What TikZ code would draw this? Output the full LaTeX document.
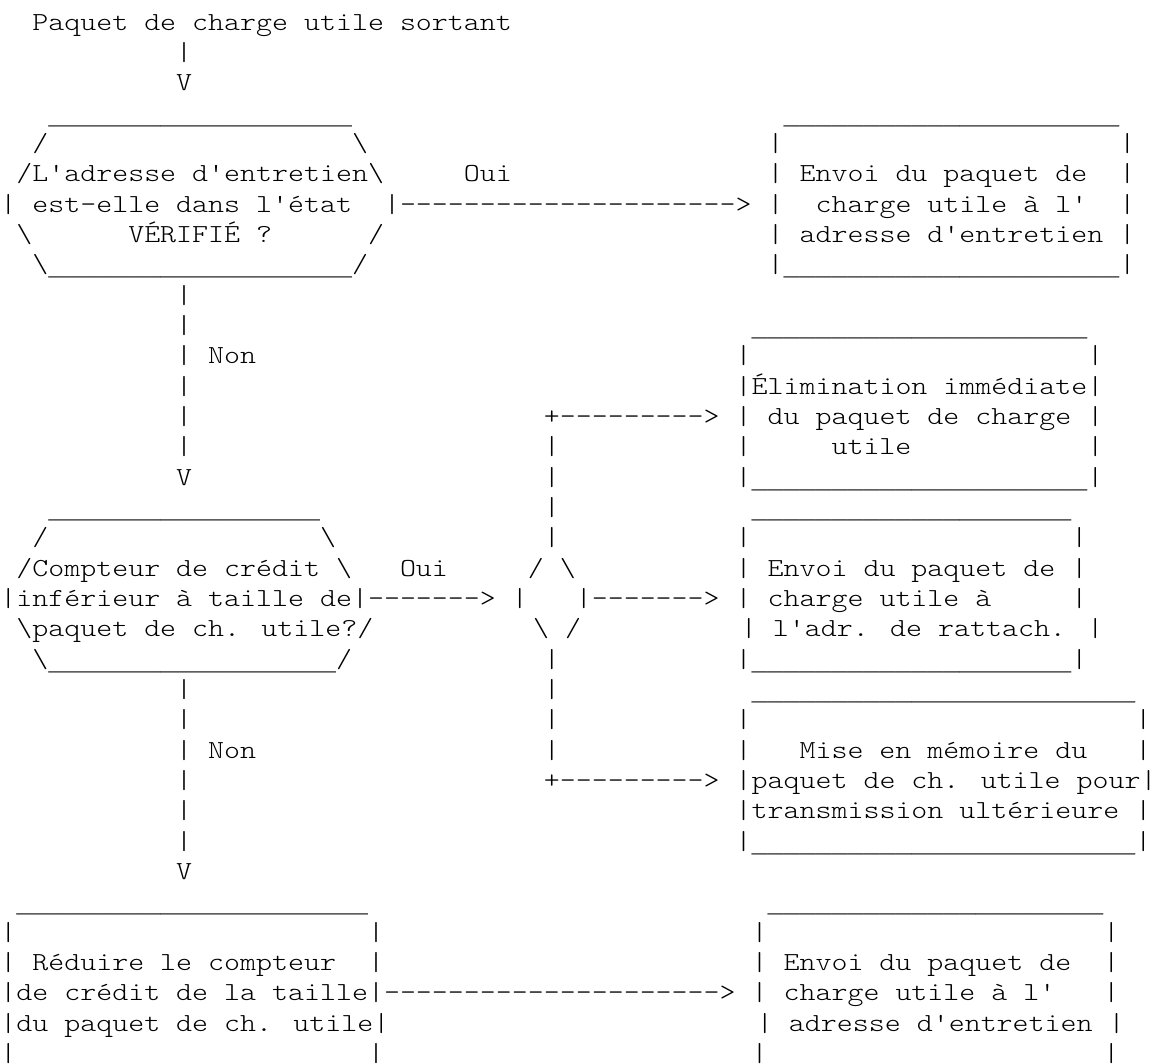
\documentclass[tikz,border=0pt]{standalone}
\usepackage{graphicx}
\usepackage{fontspec}
\usepackage{tikz}
\newfontfamily\trait{Liberation Mono}

\newcommand{\gap}[1]{\foreach \k in {1,...,#1}{\ }}
\newcommand{\un}[1]{\raisebox{-1.5pt}{\trait\fontsize{11.375}{13}\selectfont\foreach \k in {1,...,#1}{\_}}}
\newcommand{\da}[1]{\foreach \k in {1,...,#1}{-}}
\newcommand{\bsl}{\textbackslash}
\newcommand{\asc}[1]{\scalebox{1.171}[1]{#1}}

\begin{document}
\begin{tikzpicture}[x=7.993pt,y=-15.165pt,
  ligne/.style={anchor=base west, inner sep=0pt, font=\fontfamily{lmtt}\fontseries{l}\fontsize{13}{15}\selectfont}]
\useasboundingbox (0,0) rectangle (72,35.08);
% Incoming packet
\node[ligne] (l1) at (0,1) {\asc{\gap{2}Paquet de charge utile sortant}};
\node[ligne] (l2) at (0,2) {\asc{\gap{11}|}};
\node[ligne] (l3) at (0,3) {\asc{\gap{11}V}};
% First test
\node[ligne] (l4) at (0,4) {\asc{\gap{3}\un{19}\gap{27}\un{21}}};
\node[ligne] (l5) at (0,5) {\asc{\gap{2}/\gap{19}\bsl\gap{25}|\gap{21}|}};
\node[ligne] (l6) at (0,6) {\asc{\gap{1}/L'adresse d'entretien\bsl\gap{5}Oui\gap{16}| Envoi du paquet de\gap{2}|}};
\node[ligne] (l7) at (0,7) {\asc{| est-elle dans l'état\gap{2}|\da{21}> |\gap{2}charge utile à l'\gap{2}|}};
\node[ligne] (l8) at (0,8) {\asc{\gap{1}\bsl\gap{6}VÉRIFIÉ ?\gap{6}/\gap{24}| adresse d'entretien |}};
\node[ligne] (l9) at (0,9) {\asc{\gap{2}\bsl\un{19}/\gap{25}|\un{21}|}};
\node[ligne] (l10) at (0,10) {\asc{\gap{11}|}};
\node[ligne] (l11) at (0,11) {\asc{\gap{11}|\gap{35}\un{21}}};
\node[ligne] (l12) at (0,12) {\asc{\gap{11}| Non\gap{30}|\gap{21}|}};
\node[ligne] (l13) at (0,13) {\asc{\gap{11}|\gap{34}|Élimination immédiate|}};
\node[ligne] (l14) at (0,14) {\asc{\gap{11}|\gap{22}+\da{9}> | du paquet de charge |}};
\node[ligne] (l15) at (0,15) {\asc{\gap{11}|\gap{22}|\gap{11}|\gap{5}utile\gap{11}|}};
\node[ligne] (l16) at (0,16) {\asc{\gap{11}V\gap{22}|\gap{11}|\un{21}|}};
% Second test
\node[ligne] (l17) at (0,17) {\asc{\gap{3}\un{17}\gap{14}|\gap{12}\un{20}}};
\node[ligne] (l18) at (0,18) {\asc{\gap{2}/\gap{17}\bsl\gap{13}|\gap{11}|\gap{20}|}};
\node[ligne] (l19) at (0,19) {\asc{\gap{1}/Compteur de crédit \bsl\gap{3}Oui\gap{5}/ \bsl\gap{10}| Envoi du paquet de |}};
\node[ligne] (l20) at (0,20) {\asc{|inférieur à taille de|\da{7}> |\gap{3}|\da{7}> | charge utile à\gap{5}|}};
\node[ligne] (l21) at (0,21) {\asc{\gap{1}\bsl{}paquet de ch. utile?/\gap{10}\bsl{} /\gap{10}| l'adr. de rattach. |}};
\node[ligne] (l22) at (0,22) {\asc{\gap{2}\bsl\un{18}/\gap{12}|\gap{11}|\un{20}|}};
\node[ligne] (l23) at (0,23) {\asc{\gap{11}|\gap{22}|\gap{12}\un{24}}};
\node[ligne] (l24) at (0,24) {\asc{\gap{11}|\gap{22}|\gap{11}|\gap{24}|}};
\node[ligne] (l25) at (0,25) {\asc{\gap{11}| Non\gap{18}|\gap{11}|\gap{3}Mise en mémoire du\gap{3}|}};
\node[ligne] (l26) at (0,26) {\asc{\gap{11}|\gap{22}+\da{9}> |paquet de ch. utile pour|}};
\node[ligne] (l27) at (0,27) {\asc{\gap{11}|\gap{34}|transmission ultérieure |}};
\node[ligne] (l28) at (0,28) {\asc{\gap{11}|\gap{34}|\un{24}|}};
\node[ligne] (l29) at (0,29) {\asc{\gap{11}V}};
% Credit counter update
\node[ligne] (l30) at (0,30) {\asc{\gap{1}\un{22}\gap{25}\un{21}}};
\node[ligne] (l31) at (0,31) {\asc{|\gap{22}|\gap{23}|\gap{21}|}};
\node[ligne] (l32) at (0,32) {\asc{| Réduire le compteur\gap{2}|\gap{23}| Envoi du paquet de\gap{2}|}};
\node[ligne] (l33) at (0,33) {\asc{|de crédit de la taille|\da{21}> | charge utile à l'\gap{3}|}};
\node[ligne] (l34) at (0,34) {\asc{|du paquet de ch. utile|\gap{23}| adresse d'entretien |}};
\node[ligne] (l35) at (0,35) {\asc{|\gap{22}|\gap{23}|\gap{21}|}};
\end{tikzpicture}
\end{document}
